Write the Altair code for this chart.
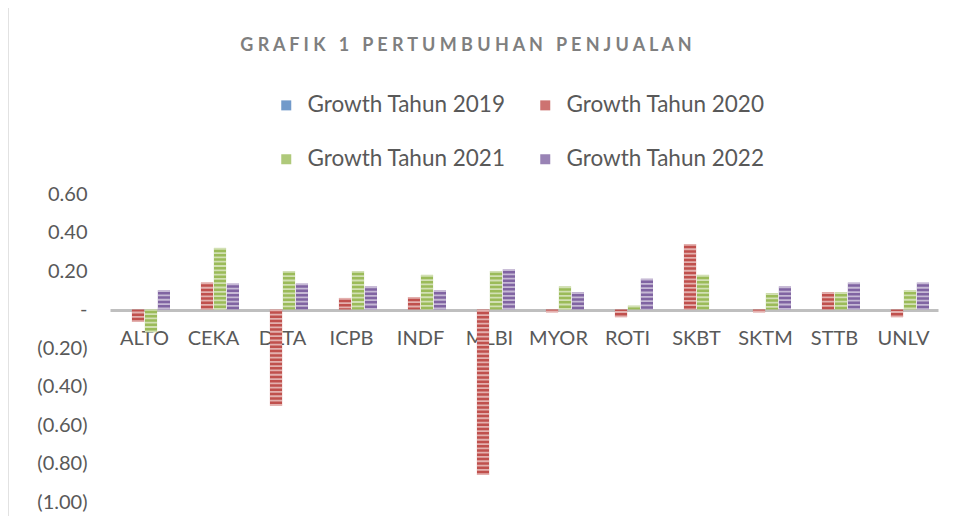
import altair as alt
import pandas as pd

companies = ["ALTO", "CEKA", "DLTA", "ICPB", "INDF", "MLBI",
             "MYOR", "ROTI", "SKBT", "SKTM", "STTB", "UNLV"]
series = ["Growth Tahun 2019", "Growth Tahun 2020",
          "Growth Tahun 2021", "Growth Tahun 2022"]

growth_2019 = [0.0, 0.0, 0.0, 0.0, 0.0, 0.0, 0.0, 0.0, 0.0, 0.0, 0.0, 0.0]
growth_2020 = [-0.065, 0.14, -0.50, 0.06, 0.065, -0.86,
               -0.015, -0.04, 0.34, -0.015, 0.09, -0.04]
growth_2021 = [-0.118, 0.32, 0.20, 0.20, 0.18, 0.20,
               0.12, 0.02, 0.18, 0.085, 0.09, 0.10]
growth_2022 = [0.10, 0.135, 0.135, 0.12, 0.10, 0.21,
               0.09, 0.16, 0.0, 0.12, 0.14, 0.14]

y_ticks = [-1.0, -0.8, -0.6, -0.4, -0.2, 0.0, 0.2, 0.4, 0.6]
colors = ["#4F81BD", "#C0504D", "#9BBB59", "#8064A2"]

title_text = "GRAFIK 1 PERTUMBUHAN PENJUALAN"
NB = "\u00a0"
spaced_title = (NB * 3).join(NB.join(word) for word in title_text.split(" "))

rows = []
for s, vals in zip(series, [growth_2019, growth_2020, growth_2021, growth_2022]):
    for c, v in zip(companies, vals):
        rows.append({"Perusahaan": c, "Seri": s, "Growth": v})
df = pd.DataFrame(rows)

label_expr = (
    "abs(datum.value) < 1e-9 ? '-" + NB * 4 + "' : "
    "(datum.value < 0 ? '(' + format(-datum.value, '.2f') + ')' : "
    "format(datum.value, '.2f') + '" + NB + "')"
)

x_enc = alt.X(
    "Perusahaan:N", sort=companies,
    scale=alt.Scale(paddingInner=0.26, paddingOuter=0.13),
    axis=alt.Axis(
        title=None, orient="bottom", offset=-192, ticks=False,
        labelAngle=0, labelFontSize=20, labelPadding=18,
        labelFont="Lato", labelColor="#595959",
        domainColor="#BFBFBF", domainWidth=3,
    ),
)
xoff_enc = alt.XOffset("Seri:N", sort=series, scale=alt.Scale(paddingInner=0.06))
y_enc = alt.Y(
    "Growth:Q",
    scale=alt.Scale(domain=[-1.0, 0.6], nice=False, zero=False),
    axis=alt.Axis(
        title=None, values=y_ticks, grid=False, domain=False,
        ticks=False, labelExpr=label_expr, labelAlign="right",
        labelBaseline="middle", labelPadding=23, labelFontSize=20,
        labelFont="Lato", labelColor="#595959",
    ),
)

bars = alt.Chart(df).mark_bar().encode(
    x=x_enc, xOffset=xoff_enc, y=y_enc,
    color=alt.Color(
        "Seri:N", sort=series,
        scale=alt.Scale(domain=series, range=colors),
        legend=alt.Legend(
            title=None, orient="none", legendX=165, legendY=-100,
            direction="horizontal",
            columns=2, symbolType="square", symbolSize=100,
            symbolStrokeWidth=0, symbolOpacity=0.8,
            labelFontSize=22.5, labelFont="Lato",
            labelColor="#595959", labelOffset=10, columnPadding=28,
            rowPadding=31, padding=0, labelLimit=400,
        ),
    ),
)

stripes = alt.Chart(df).mark_rule(
    color="white", opacity=0.55, strokeWidth=12, strokeCap="butt",
    strokeDash=[1.8, 2.5],
).encode(x=x_enc, xOffset=xoff_enc, y=y_enc, y2=alt.datum(0))

title = alt.Chart(pd.DataFrame({"t": [spaced_title]})).mark_text(
    font="Lato", fontSize=18, fontWeight="bold", color="#7F7F7F",
    align="center", baseline="middle",
).encode(text="t:N", x=alt.value(356), y=alt.value(-148))

border = alt.Chart(pd.DataFrame({"a": [0]})).mark_rule(
    color="#D9D9D9", strokeWidth=1.5
).encode(x=alt.value(-102), y=alt.value(-194), y2=alt.value(322))

chart = alt.layer(bars, stripes, title, border).properties(
    width=828, height=308,
    autosize=alt.AutoSizeParams(type="none"),
    padding={"left": 102, "top": 186, "right": 9, "bottom": 14},
).configure_view(stroke=None)

chart.save("out.html", embed_options={"renderer": "svg", "actions": False})
